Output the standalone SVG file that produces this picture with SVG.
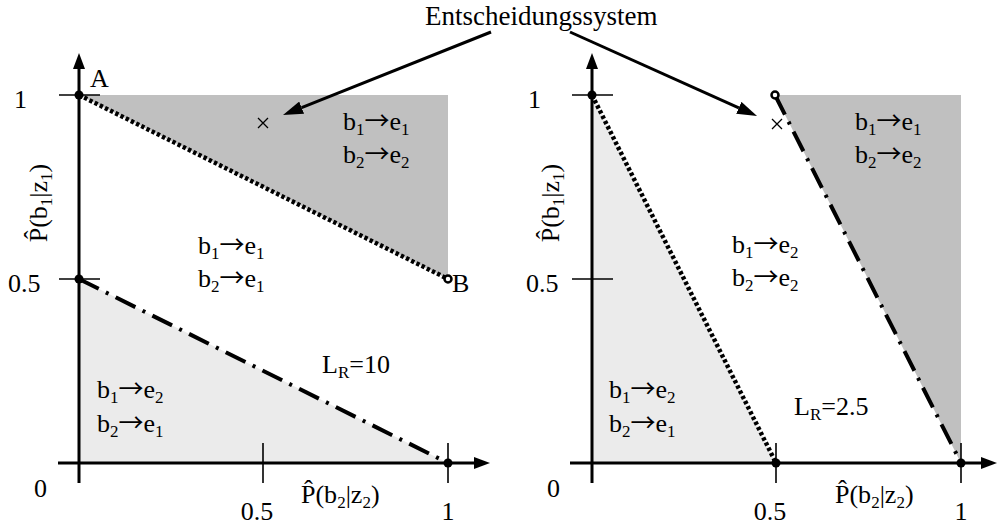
<svg xmlns="http://www.w3.org/2000/svg" width="997" height="525" viewBox="0 0 997 525">
<style>
text{font-family:"Liberation Serif","Times New Roman",serif;font-size:26px;fill:#000}
.sub{font-size:17px}
.arr{font-family:"Noto Sans CJK SC","DejaVu Serif",serif;font-size:25px}
.axis{stroke:#000;stroke-width:3;fill:none}
.tick{stroke:#000;stroke-width:1.6;fill:none}
.dot{stroke:#000;stroke-width:4.5;stroke-dasharray:3.4 2.4;fill:none}
.dd{stroke:#000;stroke-width:4;stroke-dasharray:22 8 3 8;fill:none}
.dark{fill:#c0c0c0}
.light{fill:#ebebeb}
.pt{fill:#000}
.ring{fill:#fff;stroke:#000;stroke-width:2.5}
.ptr{stroke:#000;stroke-width:3;fill:none}
.cross{stroke:#000;stroke-width:1.3}
</style>
<defs>
<marker id="ax" markerUnits="userSpaceOnUse" markerWidth="16" markerHeight="12" refX="0" refY="6" orient="auto" viewBox="0 0 16 12"><path d="M0,0 L16,6 L0,12 Z" fill="#000"/></marker>
<marker id="pa" markerUnits="userSpaceOnUse" markerWidth="20" markerHeight="13" refX="0" refY="6.5" orient="auto" viewBox="0 0 20 13"><path d="M0,0 L20,6.5 L0,13 Z" fill="#000"/></marker>
</defs>

<g id="left-plot">
<polygon class="dark" points="79,95 448,95 448,279"/>
<polygon class="light" points="79,279 79,463 448,463"/>
<line class="axis" x1="79" y1="483" x2="79" y2="69" marker-end="url(#ax)"/>
<line class="axis" x1="58" y1="463" x2="474" y2="463" marker-end="url(#ax)"/>
<line class="tick" x1="59" y1="95" x2="100" y2="95"/>
<line class="tick" x1="59" y1="279" x2="100" y2="279"/>
<line class="tick" x1="263" y1="443" x2="263" y2="483"/>
<line class="tick" x1="448" y1="443" x2="448" y2="483"/>
<line class="dot" x1="79" y1="95" x2="448" y2="279"/>
<line class="dd" x1="79" y1="279" x2="448" y2="463"/>
<circle class="pt" cx="79" cy="95" r="4.5"/>
<circle class="pt" cx="79" cy="279" r="4.5"/>
<circle class="pt" cx="448" cy="463" r="4.5"/>
<circle class="ring" cx="448" cy="279" r="3.5"/>
<path class="cross" d="M258,118 L268,128 M268,118 L258,128"/>
<text x="90" y="87">A</text>
<text x="452" y="292">B</text>
<text x="14" y="108">1</text>
<text x="8" y="292">0.5</text>
<text x="34" y="497">0</text>
<text x="257" y="520" text-anchor="middle">0.5</text>
<text x="448" y="520" text-anchor="middle">1</text>
<text x="301" y="503">P̂(b<tspan class="sub" dy="5">2</tspan><tspan dy="-5">|z</tspan><tspan class="sub" dy="5">2</tspan><tspan dy="-5">)</tspan></text>
<text transform="translate(47,203) rotate(-90)" x="0" y="0" text-anchor="middle">P̂(b<tspan class="sub" dy="5">1</tspan><tspan dy="-5">|z</tspan><tspan class="sub" dy="5">1</tspan><tspan dy="-5">)</tspan></text>
<text x="343" y="130">b<tspan class="sub" dy="5">1</tspan><tspan class="arr" dy="-5">→</tspan>e<tspan class="sub" dy="5">1</tspan></text>
<text x="343" y="163">b<tspan class="sub" dy="5">2</tspan><tspan class="arr" dy="-5">→</tspan>e<tspan class="sub" dy="5">2</tspan></text>
<text x="198" y="254">b<tspan class="sub" dy="5">1</tspan><tspan class="arr" dy="-5">→</tspan>e<tspan class="sub" dy="5">1</tspan></text>
<text x="198" y="287">b<tspan class="sub" dy="5">2</tspan><tspan class="arr" dy="-5">→</tspan>e<tspan class="sub" dy="5">1</tspan></text>
<text x="97" y="398">b<tspan class="sub" dy="5">1</tspan><tspan class="arr" dy="-5">→</tspan>e<tspan class="sub" dy="5">2</tspan></text>
<text x="97" y="432">b<tspan class="sub" dy="5">2</tspan><tspan class="arr" dy="-5">→</tspan>e<tspan class="sub" dy="5">1</tspan></text>
<text x="322" y="373">L<tspan class="sub" dy="5">R</tspan><tspan dy="-5">=10</tspan></text>
</g>

<g id="right-plot">
<polygon class="light" points="592,95 592,463 776,463"/>
<polygon class="dark" points="775,95 961,95 961,463"/>
<line class="axis" x1="592" y1="483" x2="592" y2="69" marker-end="url(#ax)"/>
<line class="axis" x1="570" y1="463" x2="981" y2="463" marker-end="url(#ax)"/>
<line class="tick" x1="572" y1="95" x2="613" y2="95"/>
<line class="tick" x1="572" y1="279" x2="613" y2="279"/>
<line class="tick" x1="776" y1="443" x2="776" y2="483"/>
<line class="tick" x1="961" y1="443" x2="961" y2="483"/>
<line class="dot" x1="592" y1="95" x2="776" y2="463"/>
<line class="dd" x1="775" y1="95" x2="961" y2="463"/>
<circle class="pt" cx="592" cy="95" r="4.5"/>
<circle class="pt" cx="776" cy="463" r="4.5"/>
<circle class="pt" cx="961" cy="463" r="4.5"/>
<circle class="ring" cx="775" cy="95" r="3.5"/>
<path class="cross" d="M772,119 L782,129 M782,119 L772,129"/>
<text x="528" y="108">1</text>
<text x="526" y="292">0.5</text>
<text x="547" y="497">0</text>
<text x="770" y="520" text-anchor="middle">0.5</text>
<text x="961" y="520" text-anchor="middle">1</text>
<text x="835" y="503">P̂(b<tspan class="sub" dy="5">2</tspan><tspan dy="-5">|z</tspan><tspan class="sub" dy="5">2</tspan><tspan dy="-5">)</tspan></text>
<text transform="translate(559,203) rotate(-90)" x="0" y="0" text-anchor="middle">P̂(b<tspan class="sub" dy="5">1</tspan><tspan dy="-5">|z</tspan><tspan class="sub" dy="5">1</tspan><tspan dy="-5">)</tspan></text>
<text x="855" y="130">b<tspan class="sub" dy="5">1</tspan><tspan class="arr" dy="-5">→</tspan>e<tspan class="sub" dy="5">1</tspan></text>
<text x="855" y="163">b<tspan class="sub" dy="5">2</tspan><tspan class="arr" dy="-5">→</tspan>e<tspan class="sub" dy="5">2</tspan></text>
<text x="732" y="253">b<tspan class="sub" dy="5">1</tspan><tspan class="arr" dy="-5">→</tspan>e<tspan class="sub" dy="5">2</tspan></text>
<text x="732" y="286">b<tspan class="sub" dy="5">2</tspan><tspan class="arr" dy="-5">→</tspan>e<tspan class="sub" dy="5">2</tspan></text>
<text x="609" y="398">b<tspan class="sub" dy="5">1</tspan><tspan class="arr" dy="-5">→</tspan>e<tspan class="sub" dy="5">2</tspan></text>
<text x="609" y="432">b<tspan class="sub" dy="5">2</tspan><tspan class="arr" dy="-5">→</tspan>e<tspan class="sub" dy="5">1</tspan></text>
<text x="794" y="415">L<tspan class="sub" dy="5">R</tspan><tspan dy="-5">=2.5</tspan></text>
</g>

<g id="title">
<text x="425" y="25" style="font-size:27px">Entscheidungssystem</text>
</g>

<g id="connectors">
<line class="ptr" x1="491" y1="32" x2="301.6" y2="107.6" marker-end="url(#pa)"/>
<line class="ptr" x1="570" y1="32" x2="738.8" y2="107.8" marker-end="url(#pa)"/>
</g>
</svg>
